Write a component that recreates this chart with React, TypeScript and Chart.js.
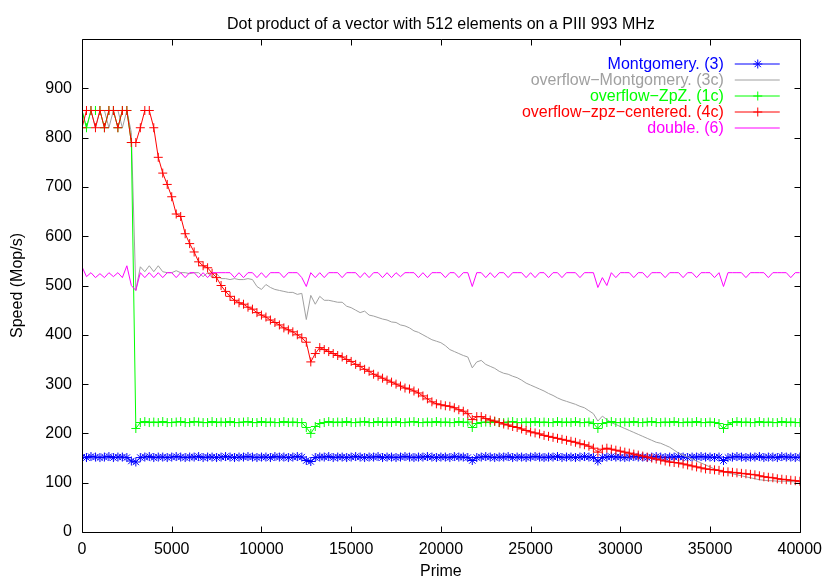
import { useEffect, useRef } from "react"
import { Chart, registerables } from "chart.js"

Chart.register(...registerables)

// primes (x), sampled every ~250
const primes = [
  0, 250, 500, 750, 1000, 1250, 1500, 1750, 2000, 2250,
  2500, 2750, 3000, 3250, 3500, 3750, 4000, 4250, 4500, 4750,
  5000, 5250, 5500, 5750, 6000, 6250, 6500, 6750, 7000, 7250,
  7500, 7750, 8000, 8250, 8500, 8750, 9000, 9250, 9500, 9750,
  10000, 10250, 10500, 10750, 11000, 11250, 11500, 11750, 12000, 12250,
  12500, 12750, 13000, 13250, 13500, 13750, 14000, 14250, 14500, 14750,
  15000, 15250, 15500, 15750, 16000, 16250, 16500, 16750, 17000, 17250,
  17500, 17750, 18000, 18250, 18500, 18750, 19000, 19250, 19500, 19750,
  20000, 20250, 20500, 20750, 21000, 21250, 21500, 21750, 22000, 22250,
  22500, 22750, 23000, 23250, 23500, 23750, 24000, 24250, 24500, 24750,
  25000, 25250, 25500, 25750, 26000, 26250, 26500, 26750, 27000, 27250,
  27500, 27750, 28000, 28250, 28500, 28750, 29000, 29250, 29500, 29750,
  30000, 30250, 30500, 30750, 31000, 31250, 31500, 31750, 32000, 32250,
  32500, 32750, 33000, 33250, 33500, 33750, 34000, 34250, 34500, 34750,
  35000, 35250, 35500, 35750, 36000, 36250, 36500, 36750, 37000, 37250,
  37500, 37750, 38000, 38250, 38500, 38750, 39000, 39250, 39500, 39750,
  40000,
]

const montgomery = [
  152, 151, 153, 152, 151, 152, 153, 151, 152, 152,
  151, 144, 142, 151, 152, 153, 151, 152, 152, 151,
  152, 153, 152, 151, 152, 152, 153, 151, 152, 152,
  151, 152, 153, 152, 151, 152, 152, 153, 152, 151,
  152, 152, 151, 153, 152, 152, 151, 152, 153, 152,
  145, 143, 151, 152, 152, 153, 151, 152, 152, 151,
  152, 153, 152, 151, 152, 152, 153, 151, 152, 152,
  151, 152, 153, 152, 151, 152, 152, 153, 152, 151,
  152, 152, 151, 153, 152, 152, 151, 145, 151, 152,
  153, 152, 151, 152, 152, 153, 151, 152, 152, 151,
  152, 153, 152, 151, 152, 152, 153, 151, 152, 152,
  151, 152, 153, 152, 151, 144, 151, 152, 153, 152,
  152, 151, 152, 153, 152, 152, 151, 152, 153, 152,
  151, 152, 152, 153, 152, 151, 152, 152, 153, 152,
  152, 151, 152, 145, 151, 152, 153, 152, 151, 152,
  152, 153, 151, 152, 152, 151, 153, 152, 152, 151,
  152,
]

const overflowMontgomery = [
  855, 820, 855, 820, 855, 855, 820, 855, 855, 820,
  855, 810, 490, 538, 528, 540, 528, 540, 528, 526,
  526, 530, 526, 526, 524, 526, 526, 518, 526, 516,
  524, 514, 514, 512, 514, 512, 512, 514, 512, 498,
  492, 502, 496, 492, 490, 488, 486, 486, 482, 484,
  431, 480, 462, 478, 470, 470, 468, 466, 466, 458,
  455, 450, 445, 448, 440, 438, 435, 432, 430, 426,
  425, 420, 418, 414, 408, 405, 400, 395, 390, 387,
  384, 378, 370, 366, 362, 358, 355, 333, 345, 348,
  340, 336, 332, 326, 322, 320, 316, 313, 308, 302,
  298, 294, 290, 286, 281, 277, 272, 268, 265, 262,
  259, 255, 252, 246, 240, 225, 235, 228, 222, 218,
  214, 210, 206, 202, 198, 194, 190, 186, 182, 180,
  176, 172, 166, 160, 156, 152, 148, 144, 140, 136,
  132, 128, 124, 122, 120, 118, 116, 114, 112, 110,
  108, 106, 105, 104, 104, 103, 103, 103, 102, 102,
  102,
]

const overflowZpZ = [
  855, 820, 855, 855, 855, 820, 855, 855, 820, 855,
  855, 790, 210, 222, 224, 222, 223, 222, 224, 222,
  222, 223, 224, 222, 222, 224, 223, 222, 222, 224,
  222, 223, 222, 224, 222, 222, 223, 224, 222, 222,
  224, 222, 223, 222, 222, 224, 222, 223, 222, 222,
  212, 200, 214, 220, 222, 224, 222, 223, 222, 224,
  222, 222, 223, 224, 222, 222, 224, 222, 223, 222,
  224, 222, 222, 223, 224, 222, 222, 223, 222, 224,
  222, 223, 222, 222, 224, 222, 223, 212, 220, 222,
  223, 222, 224, 222, 222, 223, 224, 222, 222, 223,
  222, 224, 222, 223, 222, 222, 224, 222, 223, 222,
  224, 222, 222, 223, 220, 210, 220, 222, 224, 222,
  222, 223, 222, 224, 222, 222, 223, 224, 222, 222,
  223, 222, 224, 222, 222, 223, 222, 224, 222, 222,
  223, 222, 220, 210, 218, 222, 224, 222, 223, 222,
  222, 224, 222, 223, 222, 222, 224, 222, 223, 222,
  222,
]

const overflowZpzCentered = [
  820, 855, 855, 820, 855, 820, 855, 855, 820, 855,
  855, 790, 790, 820, 855, 855, 820, 760, 728, 705,
  680, 645, 640, 605, 585, 568, 548, 540, 536, 525,
  516, 500, 488, 478, 470, 465, 462, 456, 452, 445,
  440, 436, 430, 425, 420, 414, 410, 406, 400, 394,
  385, 345, 362, 374, 370, 366, 362, 358, 355, 350,
  346, 340, 336, 330, 326, 320, 316, 312, 308, 304,
  300, 296, 292, 290, 286, 282, 276, 270, 264, 260,
  258, 256, 255, 252, 248, 245, 240, 228, 234, 234,
  230, 227, 225, 222, 219, 217, 214, 212, 209, 206,
  203, 201, 199, 196, 194, 192, 190, 188, 186, 184,
  182, 179, 177, 174, 170, 162, 168, 170, 168, 166,
  164, 162, 160, 158, 156, 154, 152, 150, 148, 146,
  144, 142, 141, 140, 138, 136, 134, 132, 130, 128,
  127, 126, 125, 122, 122, 121, 120, 119, 118, 117,
  116, 114, 112, 111, 110, 108, 107, 106, 105, 104,
  103,
]

const doubleSpeed = [
  538, 518, 526, 516, 524, 516, 526, 518, 526, 516,
  540, 500, 490, 526, 516, 526, 516, 526, 516, 526,
  526, 516, 526, 516, 526, 526, 516, 526, 516, 526,
  526, 526, 526, 526, 516, 526, 516, 526, 526, 516,
  526, 516, 526, 526, 526, 516, 526, 526, 526, 516,
  498, 526, 516, 526, 516, 526, 526, 526, 516, 526,
  526, 526, 516, 526, 516, 526, 526, 516, 526, 516,
  526, 518, 526, 526, 526, 516, 526, 516, 526, 526,
  526, 516, 526, 526, 516, 526, 526, 498, 526, 526,
  516, 526, 516, 526, 526, 516, 526, 526, 526, 516,
  526, 516, 526, 526, 516, 526, 526, 516, 526, 526,
  526, 516, 526, 526, 526, 496, 516, 500, 526, 516,
  526, 526, 526, 516, 526, 526, 516, 526, 526, 526,
  516, 526, 526, 526, 516, 526, 526, 516, 526, 526,
  526, 516, 526, 498, 526, 526, 526, 526, 516, 526,
  526, 526, 526, 516, 526, 526, 526, 526, 516, 526,
  526,
]

const xTickValues = [0, 5000, 10000, 15000, 20000, 25000, 30000, 35000, 40000]
const yTickValues = [0, 100, 200, 300, 400, 500, 600, 700, 800, 900]

const chartTitle = "Dot product of a vector with 512 elements on a PIII 993 MHz"

const series = [
  { label: "Montgomery. (3)", values: montgomery, color: "#0000ff", marker: "star" },
  { label: "overflow\u2212Montgomery. (3c)", values: overflowMontgomery, color: "#a0a0a0", marker: "none" },
  { label: "overflow\u2212ZpZ. (1c)", values: overflowZpZ, color: "#00ff00", marker: "cross" },
  { label: "overflow\u2212zpz\u2212centered. (4c)", values: overflowZpzCentered, color: "#ff0000", marker: "cross" },
  { label: "double. (6)", values: doubleSpeed, color: "#ff00ff", marker: "none" },
]

const FONT = "'Liberation Sans', Arial, sans-serif"
const FONT_SIZE = 16

function drawMarker(ctx, kind, x, y, r) {
  ctx.beginPath()
  ctx.moveTo(x - r, y)
  ctx.lineTo(x + r, y)
  ctx.moveTo(x, y - r)
  ctx.lineTo(x, y + r)
  if (kind === "star") {
    const d = r * 0.7
    ctx.moveTo(x - d, y - d)
    ctx.lineTo(x + d, y + d)
    ctx.moveTo(x - d, y + d)
    ctx.lineTo(x + d, y - d)
  }
  ctx.stroke()
}

// gnuplot-like frame, inward ticks, title and key
const gnuplotFrame = {
  id: "gnuplotFrame",
  afterDatasetsDraw(chart) {
    const { ctx, chartArea: a, scales } = chart
    ctx.save()
    ctx.strokeStyle = "#000"
    ctx.lineWidth = 1
    const L = Math.round(a.left) + 0.5
    const R = Math.round(a.right) + 0.5
    const T = Math.round(a.top) + 0.5
    const B = Math.round(a.bottom) + 0.5
    ctx.beginPath()
    ctx.rect(L, T, R - L, B - T)
    for (const v of xTickValues) {
      const px = Math.round(scales.x.getPixelForValue(v)) + 0.5
      ctx.moveTo(px, B)
      ctx.lineTo(px, B - 6)
      ctx.moveTo(px, T)
      ctx.lineTo(px, T + 6)
    }
    for (const v of yTickValues) {
      const py = Math.round(scales.y.getPixelForValue(v)) + 0.5
      ctx.moveTo(L, py)
      ctx.lineTo(L + 6, py)
      ctx.moveTo(R, py)
      ctx.lineTo(R - 6, py)
    }
    ctx.stroke()

    ctx.font = `${FONT_SIZE}px ${FONT}`

    // title, centred over the plot
    ctx.fillStyle = "#000"
    ctx.textAlign = "center"
    ctx.textBaseline = "alphabetic"
    ctx.fillText(chartTitle, (a.left + a.right) / 2, 29)

    // key, top right inside the frame
    ctx.textAlign = "right"
    ctx.textBaseline = "middle"
    series.forEach((s, i) => {
      const y = Math.round(a.top + 24.6 + i * 16.2)
      ctx.fillStyle = s.color
      ctx.fillText(s.label, a.right - 76, y + 1)
      ctx.strokeStyle = s.color
      ctx.beginPath()
      ctx.moveTo(a.right - 65, y)
      ctx.lineTo(a.right - 20, y)
      ctx.stroke()
      if (s.marker !== "none") drawMarker(ctx, s.marker, a.right - 42, y, 4.5)
    })
    ctx.restore()
  },
}

export default function App() {
  const chartRef = useRef(null)
  const chartInstance = useRef(null)

  useEffect(() => {
    if (!chartRef.current) return
    if (chartInstance.current) chartInstance.current.destroy()

    Chart.defaults.font.family = FONT
    Chart.defaults.font.size = FONT_SIZE
    Chart.defaults.color = "#000"

    const datasets = series.map((s, i) => ({
      label: s.label,
      data: primes.map((p, j) => ({ x: p, y: s.values[j] })),
      borderColor: s.color,
      backgroundColor: s.color,
      borderWidth: 1,
      pointStyle: s.marker === "star" ? "star" : "cross",
      pointRadius: s.marker === "none" ? 0 : 4.5,
      pointBorderWidth: 1,
      pointBorderColor: s.color,
      tension: 0,
      fill: false,
      order: series.length - i,
    }))

    const ctx = chartRef.current.getContext("2d")
    chartInstance.current = new Chart(ctx, {
      type: "line",
      data: { datasets },
      plugins: [gnuplotFrame],
      options: {
        animation: false,
        responsive: true,
        maintainAspectRatio: false,
        layout: { padding: { left: 0, right: 28, top: 39, bottom: 0 } },
        plugins: {
          legend: { display: false },
          tooltip: { enabled: false },
          title: { display: false },
        },
        scales: {
          x: {
            type: "linear",
            min: 0,
            max: 40000,
            grid: { display: false, drawTicks: false },
            border: { display: false },
            afterBuildTicks: (scale) => {
              scale.ticks = xTickValues.map((v) => ({ value: v }))
            },
            afterFit: (scale) => {
              scale.height = 49
            },
            ticks: {
              padding: 8,
              maxRotation: 0,
              autoSkip: false,
              callback: (v) => String(v),
            },
            title: {
              display: true,
              text: "Prime",
              font: { size: FONT_SIZE, family: FONT },
              padding: { top: 0, bottom: 0 },
            },
          },
          y: {
            type: "linear",
            min: 0,
            max: 1000,
            grid: { display: false, drawTicks: false },
            border: { display: false },
            afterBuildTicks: (scale) => {
              scale.ticks = yTickValues.map((v) => ({ value: v }))
            },
            afterFit: (scale) => {
              scale.width = 82
            },
            ticks: {
              padding: 10,
              autoSkip: false,
              callback: (v) => String(v),
            },
            title: {
              display: true,
              text: "Speed (Mop/s)",
              font: { size: FONT_SIZE, family: FONT },
              padding: { top: 7.5, bottom: 0 },
            },
          },
        },
      },
    })

    return () => {
      if (chartInstance.current) {
        chartInstance.current.destroy()
        chartInstance.current = null
      }
    }
  }, [])

  return (
    <div style={{ position: "fixed", left: 0, top: 0, width: 830, height: 581, background: "#fff" }}>
      <canvas ref={chartRef}></canvas>
    </div>
  )
}
